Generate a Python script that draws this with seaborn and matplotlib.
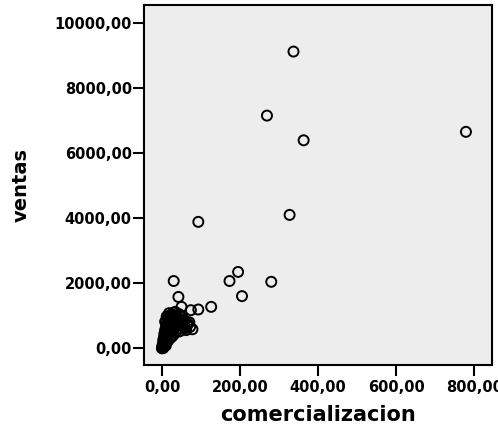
import matplotlib
matplotlib.use("Agg")
import matplotlib.pyplot as plt
import seaborn as sns
import pandas as pd

# comercializacion (x) and ventas (y)
comercializacion = [
    0, 1, 2, 3, 2, 4, 5, 6, 3, 7, 8, 10, 5, 12, 9, 14, 6, 11, 16, 18,
    8, 13, 20, 22, 10, 15, 24, 26, 12, 18, 28, 30, 14, 20, 32, 34, 16, 22,
    36, 38, 25, 40, 30, 42, 45, 48, 50, 55, 60, 65, 35, 28, 44, 52, 58, 62,
    40, 36, 30, 25, 20, 15, 45, 70, 4, 1, 0, 3, 10,
    8, 18, 26, 34, 46, 54, 66, 72, 12, 24,
    78, 50, 74, 93, 126, 42, 205, 30, 173, 195, 280, 93, 327, 269, 337, 363, 779,
]
ventas = [
    0, 20, 50, 80, 120, 150, 100, 200, 250, 280, 180, 320, 350, 260, 400, 380,
    450, 480, 430, 520, 560, 600, 580, 470, 650, 700, 650, 560, 760, 800, 720,
    620, 860, 900, 800, 700, 950, 1000, 880, 760, 1050, 950, 1100, 820, 900,
    700, 780, 650, 620, 720, 1000, 1000, 1050, 950, 850, 560, 600, 500, 420,
    350, 300, 220, 520, 800, 30, 60, 10, 5, 90,
    820, 1080, 920, 1120, 1000, 820, 760, 660, 980, 780,
    586, 1275, 1173, 1194, 1275, 1580, 1605, 2070, 2070, 2350, 2046, 3890,
    4105, 7160, 9130, 6400, 6660,
]

xticks = [0, 200, 400, 600, 800]
yticks = [0, 2000, 4000, 6000, 8000, 10000]

df = pd.DataFrame({"comercializacion": comercializacion, "ventas": ventas})

sns.set_style("white")
plt.rcParams["font.family"] = ["DejaVu Sans"]
plt.rcParams["text.color"] = "black"
plt.rcParams["axes.labelcolor"] = "black"

fig = plt.figure(figsize=(4.98, 4.41), dpi=100)
ax = fig.add_axes([144.3 / 498, 1 - 365 / 441, (491.7 - 144.3) / 498, (365 - 5) / 441])
ax.set_facecolor("#ededed")

sns.scatterplot(data=df, x="comercializacion", y="ventas", ax=ax,
                marker="o", s=52, facecolors="none", edgecolor="black",
                linewidth=1.4, legend=False)

ax.set_xlim(-45.4, 845)
ax.set_ylim(-514, 10563)
ax.set_xticks(xticks)
ax.set_yticks(yticks)
ax.set_xticklabels([f"{v:.2f}".replace(".", ",") for v in xticks])
ax.set_yticklabels([f"{v:.2f}".replace(".", ",") for v in yticks])

for sp in ax.spines.values():
    sp.set_visible(True)
    sp.set_color("black")
    sp.set_linewidth(1.5)

ax.tick_params(axis="both", which="major", direction="out", length=8, width=1.5,
               color="black", labelsize=10.5, labelcolor="black",
               bottom=True, left=True, top=False, right=False)
ax.tick_params(axis="y", pad=1)
ax.tick_params(axis="x", pad=3)
for lab in ax.get_xticklabels() + ax.get_yticklabels():
    lab.set_fontweight("bold")

ax.set_xlabel("comercializacion", fontsize=15, fontweight="bold", labelpad=7, color="black")
ax.set_ylabel("ventas", fontsize=14, fontweight="bold", labelpad=17, color="black")

fig.savefig("out.png", dpi=100)
